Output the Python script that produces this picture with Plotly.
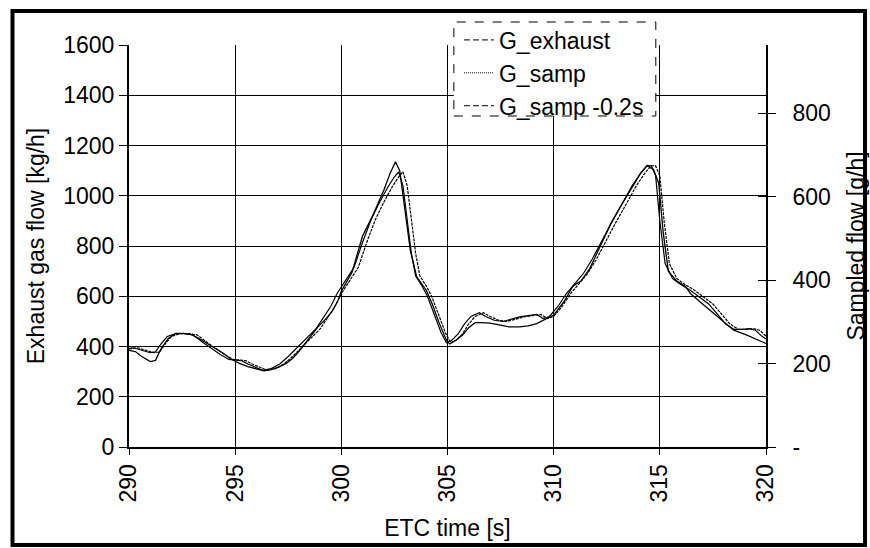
import plotly.graph_objects as go

# Exhaust gas flow (left axis, kg/h)
t_exhaust = [290.0, 290.3, 290.6, 291.0, 291.25, 291.5, 291.85, 292.2, 292.6, 292.95,
             293.3, 293.6, 294.0, 294.4, 294.8, 295.2, 295.6, 296.0, 296.35, 296.7,
             297.05, 297.4, 297.7, 298.0, 298.3, 298.6, 298.9, 299.25, 299.55, 299.85,
             300.0, 300.5, 301.0, 301.5, 302.0, 302.3, 302.55, 302.75, 303.0, 303.25,
             303.55, 304.0, 304.3, 304.6, 304.95, 305.1, 305.4, 305.7, 306.0, 306.3,
             306.6, 307.0, 307.5, 307.9, 308.4, 308.8, 309.2, 309.65, 310.0, 310.5,
             310.9, 311.3, 311.7, 312.2, 312.7, 313.2, 313.8, 314.1, 314.4, 314.7,
             314.95, 315.15, 315.4, 315.8, 316.2, 316.44, 317.0, 317.54, 318.0, 318.48,
             319.1, 319.5, 320.0]
g_exhaust = [385, 380, 360, 340, 345, 390, 432, 452, 452, 447,
             432, 417, 397, 375, 350, 333, 320, 310, 303, 308,
             318, 333, 352, 380, 412, 445, 478, 508, 538, 584,
             620, 695, 840, 925, 1022, 1090, 1135, 1100, 950, 783,
             677, 624, 565, 495, 425, 410, 425, 445, 475, 495,
             495, 493, 485, 478, 478, 482, 491, 511, 525, 580,
             640, 662, 710, 800, 890, 965, 1050, 1090, 1120, 1105,
             1049, 860, 700, 660, 640, 611, 570, 531, 500, 465,
             445, 430, 412]

# Sampled flow (right axis, g/h)
t_samp = [290.0, 290.4, 290.8, 291.2, 291.45, 291.7, 292.0, 292.4, 292.8, 293.2,
          293.7, 294.1, 294.5, 294.9, 295.2, 295.5, 295.8, 296.1, 296.5, 296.9,
          297.3, 297.7, 298.1, 298.6, 299.0, 299.3, 299.7, 300.0, 300.4, 300.8,
          301.2, 301.6, 302.0, 302.4, 302.7, 302.9, 303.1, 303.3, 303.5, 303.7,
          304.0, 304.25, 304.6, 304.9, 305.15, 305.4, 305.7, 306.0, 306.3, 306.7,
          307.0, 307.4, 307.8, 308.2, 308.6, 309.0, 309.4, 309.7, 310.0, 310.4,
          310.8, 311.2, 311.6, 312.0, 312.4, 312.9, 313.4, 313.9, 314.3, 314.6,
          314.8, 315.0, 315.2, 315.45, 315.8, 316.2, 316.6, 317.0, 317.5, 317.9,
          318.3, 318.7, 319.1, 319.4, 319.7, 320.0, 320.2]
g_samp = [235, 238, 232, 226, 228, 247, 265, 272, 272, 269,
          250, 235, 222, 210, 208, 207, 199, 192, 184, 188,
          199, 217, 238, 264, 283, 306, 337, 368, 398, 431,
          491, 545, 587, 624, 648, 660, 627, 542, 464, 410,
          386, 362, 313, 274, 250, 256, 271, 295, 313, 322,
          313, 304, 301, 307, 312, 315, 318, 308, 313, 337,
          368, 392, 416, 449, 488, 536, 581, 627, 657, 675,
          674, 651, 542, 440, 404, 389, 377, 362, 343, 319,
          295, 282, 282, 284, 280, 266, 259]

time_shift = 0.2  # s, sample line delay
t_samp_shift = [t - time_shift for t in t_samp]

x_ticks = [290, 295, 300, 305, 310, 315, 320]
y2_ticks = [0, 200, 400, 600, 800]
y2_text = ["-", "200", "400", "600", "800"]

FONT = "Liberation Sans, Arial, sans-serif"
BLACK = "#000000"
FS = 23

fig = go.Figure()

# Data curves (drawn near-solid, as dense short segments)
fig.add_trace(go.Scatter(x=t_exhaust, y=g_exhaust, mode="lines", yaxis="y",
                         line=dict(color=BLACK, width=1.3), showlegend=False))
fig.add_trace(go.Scatter(x=t_samp, y=g_samp, mode="lines", yaxis="y2",
                         line=dict(color=BLACK, width=1.2, dash="3px,1px"), showlegend=False))
fig.add_trace(go.Scatter(x=t_samp_shift, y=g_samp, mode="lines", yaxis="y2",
                         line=dict(color=BLACK, width=1.2), showlegend=False))

# Legend entries
fig.add_trace(go.Scatter(x=[None], y=[None], mode="lines", name="G_exhaust",
                         line=dict(color=BLACK, width=1, dash="6px,3px")))
fig.add_trace(go.Scatter(x=[None], y=[None], mode="lines", name="G_samp",
                         line=dict(color=BLACK, width=1, dash="1px,1px")))
fig.add_trace(go.Scatter(x=[None], y=[None], mode="lines", name="G_samp -0.2s",
                         line=dict(color=BLACK, width=1, dash="6px,3px")))

# Inner half of the crossing ticks on the right axis
fig.add_trace(go.Scatter(x=[None], y=[None], yaxis="y3", showlegend=False, hoverinfo="skip"))

fig.update_layout(
    width=870, height=548,
    margin=dict(l=129, r=104, t=45, b=101, autoexpand=False),
    paper_bgcolor="white", plot_bgcolor="white",
    font=dict(family=FONT, size=FS, color=BLACK),
    xaxis=dict(range=[290, 320], tickvals=x_ticks, tickangle=-90, automargin=False,
               showgrid=True, gridcolor=BLACK, gridwidth=1.4, zeroline=False,
               showline=True, linecolor=BLACK, linewidth=2,
               ticks="outside", ticklen=6, tickcolor=BLACK, tickwidth=1.2,
               tickfont=dict(size=FS),
               title=dict(text="ETC time [s]", font=dict(size=FS), standoff=18)),
    yaxis=dict(range=[0, 1600], dtick=200, tick0=0, automargin=False,
               showgrid=True, gridcolor=BLACK, gridwidth=1.4, zeroline=False,
               showline=True, linecolor=BLACK, linewidth=2,
               ticks="outside", ticklen=8, tickcolor=BLACK, tickwidth=1.2,
               tickfont=dict(size=FS),
               title=dict(text="Exhaust gas flow [kg/h]", font=dict(size=FS), standoff=12)),
    yaxis2=dict(range=[0, 964], overlaying="y", side="right", anchor="x", automargin=False,
                tickvals=y2_ticks, ticktext=y2_text,
                showgrid=False, zeroline=False,
                showline=True, linecolor=BLACK, linewidth=1.6,
                ticks="outside", ticklen=8, tickcolor=BLACK, tickwidth=1.2,
                ticklabelstandoff=12,
                tickfont=dict(size=FS),
                title=dict(text="Sampled flow [g/h]", font=dict(size=FS), standoff=18)),
    yaxis3=dict(range=[0, 964], overlaying="y", side="right", anchor="x", automargin=False,
                tickvals=y2_ticks, showticklabels=False,
                showgrid=False, zeroline=False, showline=False,
                ticks="inside", ticklen=8, tickcolor=BLACK, tickwidth=1.2),
    legend=dict(x=0.518, y=1.066, xanchor="left", yanchor="top",
                bgcolor="rgba(0,0,0,0)", borderwidth=0,
                font=dict(size=FS), tracegroupgap=0, itemwidth=30),
    shapes=[
        # dashed legend frame
        dict(type="rect", xref="paper", yref="paper",
             x0=0.510, x1=0.827, y0=0.8234, y1=1.0572,
             line=dict(color=BLACK, width=1, dash="dash"),
             fillcolor="white", layer="above"),
        # outer chart frame
        dict(type="rect", xref="paper", yref="paper",
             x0=-0.1829, x1=1.1554, y0=-0.2438, y1=1.0846,
             line=dict(color=BLACK, width=4), fillcolor="rgba(0,0,0,0)", layer="above"),
    ],
)

fig.write_html("out.html")
